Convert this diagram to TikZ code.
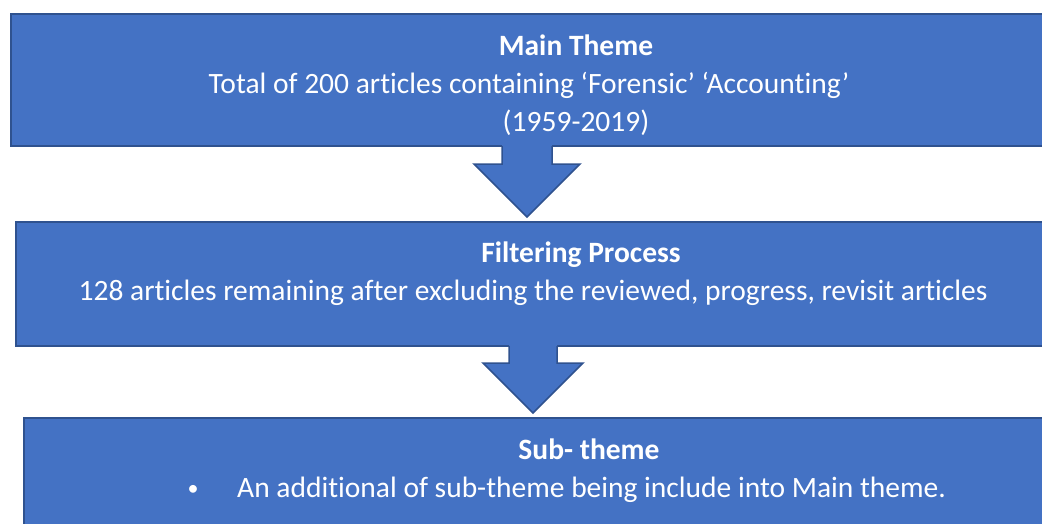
\documentclass[tikz,border=0pt]{standalone}
\usepackage{fontspec}
\setmainfont{Carlito}[Ligatures=NoCommon]
\definecolor{boxfill}{HTML}{4472C4}
\definecolor{boxline}{HTML}{2F528F}
\tikzset{
  box/.style={draw=boxline, fill=boxfill, line width=2pt, inner sep=0pt, anchor=north west},
  txt/.style={text=white, inner sep=0pt, font=\fontsize{29.5}{35}\selectfont},
  ttl/.style={txt, font=\fontsize{29.5}{35}\selectfont\bfseries},
  blockarrow/.style={fill=boxfill},
  blockedge/.style={draw=boxline, line width=1.5pt, line join=miter},
}
\begin{document}
\begin{tikzpicture}[x=1pt,y=-1pt]
\useasboundingbox (0,0) rectangle (1042,523);
\clip (0,0) rectangle (1042,523);
% boxes
\node[box, minimum width=1060pt, minimum height=132pt] (b1) at (10,13) {};
\node[box, minimum width=1060pt, minimum height=124pt] (b2) at (15,221) {};
\node[box, minimum width=1060pt, minimum height=140pt] (b3) at (23,417) {};
% arrow 1
\coordinate (a1t) at (527,217);
\fill[blockarrow] (502,143) -- (502,164) -- (474,164) -- (a1t) -- (580,164) -- (552,164) -- (552,143) -- cycle;
\draw[blockedge] (502,146) -- (502,164) -- (474,164) -- (a1t) -- (580,164) -- (552,164) -- (552,146);
% arrow 2
\coordinate (a2t) at (533,413);
\fill[blockarrow] (509,343) -- (509,363) -- (483,363) -- (a2t) -- (583,363) -- (557,363) -- (557,343) -- cycle;
\draw[blockedge] (509,346) -- (509,363) -- (483,363) -- (a2t) -- (583,363) -- (557,363) -- (557,346);
% texts
\node[ttl, anchor=base] (t11) at (576,55) {Main Theme};
\node[txt, anchor=base] (t12) at (529,93) {Total of 200 articles containing ‘Forensic’ ‘Accounting’};
\node[txt, anchor=base] (t13) at (576,131) {(1959-2019)};
\node[ttl, anchor=base] (t21) at (581,262) {Filtering Process};
\node[txt, anchor=base] (t22) at (533,300) {128 articles remaining after excluding the reviewed, progress, revisit articles};
\node[ttl, anchor=base] (t31) at (589,459) {Sub- theme};
\node[txt, anchor=base, font=\fontsize{22}{26}\selectfont] (t3b) at (193,495) {•};
\node[txt, anchor=base west] (t32) at (237,497) {An additional of sub-theme being include into Main theme.};
\end{tikzpicture}
\end{document}
